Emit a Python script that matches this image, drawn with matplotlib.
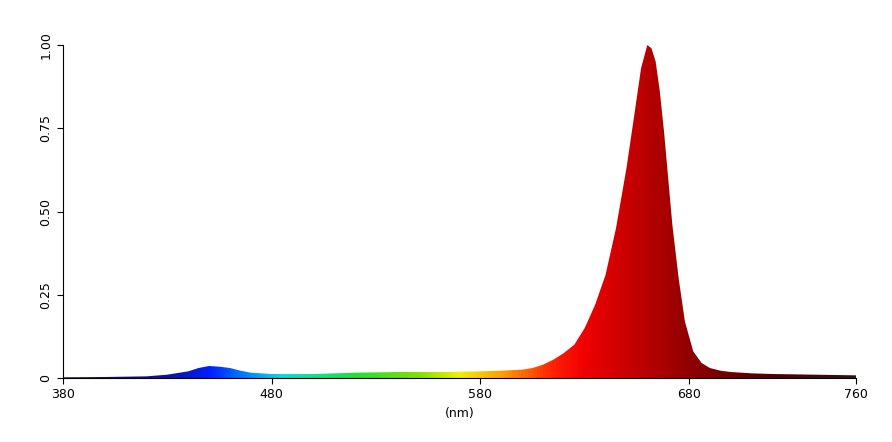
import numpy as np
import matplotlib
matplotlib.use("Agg")
import matplotlib.pyplot as plt
from matplotlib.colors import LinearSegmentedColormap
from matplotlib.patches import Polygon

wl = [380, 400, 420, 430, 440, 445, 450, 455, 460, 465, 470, 480, 500, 520, 540, 560, 580, 590, 600, 605, 610, 615, 620, 625, 630, 635, 640, 645, 650, 654, 657, 660, 662, 664, 666, 668, 670, 672, 675, 678, 682, 686, 690, 695, 700, 710, 720, 740, 760]
val = [0.002, 0.003, 0.005, 0.01, 0.02, 0.03, 0.036, 0.034, 0.03, 0.022, 0.016, 0.012, 0.012, 0.016, 0.018, 0.018, 0.02, 0.022, 0.025, 0.03, 0.04, 0.055, 0.075, 0.1, 0.15, 0.22, 0.31, 0.45, 0.63, 0.8, 0.93, 1.0, 0.99, 0.95, 0.86, 0.74, 0.6, 0.46, 0.3, 0.17, 0.08, 0.045, 0.03, 0.022, 0.018, 0.014, 0.012, 0.01, 0.008]

stops = [(380, "#10105a"), (430, "#1010a0"), (450, "#0020ff"), (470, "#0090ff"), (485, "#00e0e0"),
         (520, "#20e030"), (550, "#80e000"), (570, "#f0f000"), (590, "#ffa000"), (615, "#ff2000"),
         (630, "#f00000"), (660, "#b80000"), (690, "#800000"), (720, "#500000"), (760, "#301010")]
cmap = LinearSegmentedColormap.from_list("spec", [((w - 380) / 380, c) for w, c in stops])

fig = plt.figure(figsize=(8.92, 4.42), dpi=100)
ax = fig.add_axes([63/892, 1 - 378/442, 793/892, 333/442])
grad = np.linspace(0, 1, 800).reshape(1, -1)
im = ax.imshow(grad, cmap=cmap, extent=[380, 760, 0, 1.0], aspect="auto", zorder=2)
poly = Polygon(list(zip(wl, val)) + [(760, 0), (380, 0)], closed=True, facecolor="none", edgecolor="none")
ax.add_patch(poly)
im.set_clip_path(poly)
ax.set_xlim(380, 760)
ax.set_ylim(0, 1.0)
ax.set_xticks([380, 480, 580, 680, 760])
ax.set_yticks([0, 0.25, 0.5, 0.75, 1.0])
ax.set_yticklabels(["0", "0.25", "0.50", "0.75", "1.00"], rotation=90, va="center")
for s in ["top", "right"]:
    ax.spines[s].set_visible(False)
ax.tick_params(labelsize=9, length=4)
ax.set_xlabel("(nm)", fontsize=9)
fig.savefig("out.png", dpi=100)
